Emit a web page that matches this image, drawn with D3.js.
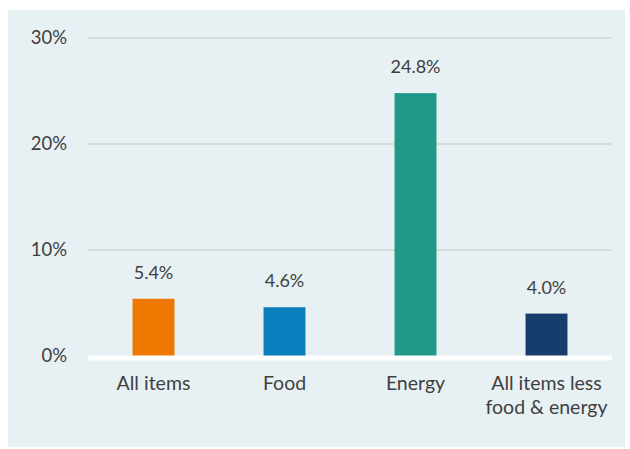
<!DOCTYPE html>
<html><head><meta charset="utf-8">
<script src="https://cdn.jsdelivr.net/npm/d3@7"></script>
<style>body{margin:0;background:#fff}svg{display:block}</style>
</head><body>
<script>
const categories = ["All items", "Food", "Energy", "All items less\nfood & energy"];
const values = [5.4, 4.6, 24.8, 4.0];
const colors = ["#ef7800", "#0b7ebd", "#1f9a8a", "#173d6d"];
const yTicks = [0, 10, 20, 30];

const W = 630, H = 449;
const svg = d3.select("body").append("svg").attr("width", W).attr("height", H);
svg.append("rect").attr("x", 8).attr("y", 10).attr("width", 617).attr("height", 437).attr("fill", "#e7f0f3");

const font = "Lato, 'Open Sans', sans-serif";
const x = d3.scaleBand().domain(categories).range([88, 612]).padding(0.68).paddingOuter(0.34);
const y = d3.scaleLinear().domain([0, 30]).range([356, 38]);

svg.append("g").selectAll("line").data(yTicks.filter(d => d > 0)).join("line")
  .attr("x1", 88).attr("x2", 612).attr("y1", d => y(d)).attr("y2", d => y(d))
  .attr("stroke", "#d8dcde").attr("stroke-width", 2);

svg.append("g").selectAll("text").data(yTicks).join("text")
  .attr("x", 67).attr("y", d => y(d)).attr("dy", "0.35em").attr("text-anchor", "end")
  .attr("font-family", font).attr("font-size", 18.5).attr("fill", "#404040")
  .text(d => d + "%");

svg.append("g").selectAll("rect").data(values).join("rect")
  .attr("x", (d, i) => x(categories[i])).attr("width", x.bandwidth())
  .attr("y", d => y(d)).attr("height", d => y(0) - y(d))
  .attr("fill", (d, i) => colors[i]);

svg.append("line").attr("x1", 88).attr("x2", 612).attr("y1", y(0) + 2).attr("y2", y(0) + 2)
  .attr("stroke", "#ffffff").attr("stroke-width", 5);

svg.append("g").selectAll("text").data(values).join("text")
  .attr("x", (d, i) => x(categories[i]) + x.bandwidth() / 2).attr("y", d => y(d) - 20)
  .attr("text-anchor", "middle").attr("font-family", font).attr("font-size", 18).attr("fill", "#404040")
  .text(d => d.toFixed(1) + "%");

const cl = svg.append("g").selectAll("text").data(categories).join("text")
  .attr("x", d => x(d) + x.bandwidth() / 2).attr("y", 390)
  .attr("text-anchor", "middle").attr("font-family", font).attr("font-size", 19.5).attr("fill", "#404040");
cl.each(function(d) {
  const t = d3.select(this);
  d.split("\n").forEach((line, i) => {
    t.append("tspan").attr("x", t.attr("x")).attr("dy", i === 0 ? 0 : 24).text(line);
  });
});
</script>
</body></html>
